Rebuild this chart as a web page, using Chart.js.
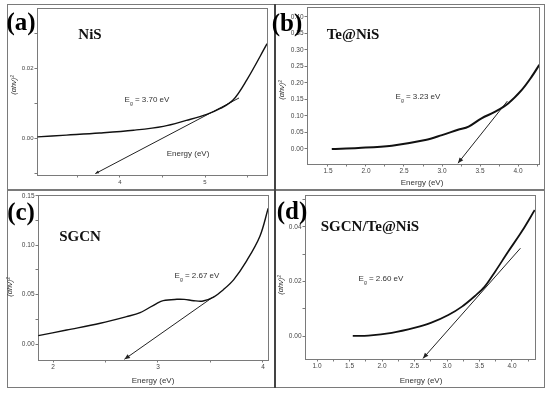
<!DOCTYPE html>
<html>
<head>
<meta charset="utf-8">
<script src="https://cdn.jsdelivr.net/npm/chart.js@4.4.1/dist/chart.umd.min.js"></script>
<style>
body{margin:0;width:550px;height:393px;background:#fff;position:relative;overflow:hidden;font-family:"Liberation Sans",Arial,sans-serif}
canvas{position:absolute}
.ln{position:absolute;background:#7a7a7a}
.t{position:absolute;transform:translate(-50%,-50%);white-space:nowrap;color:#333;line-height:1;z-index:3}
.tag{font:bold 25px "Liberation Serif",serif;color:#000}
.name{font:bold 15px "Liberation Serif",serif;color:#111}
.eg{font-size:8px}
.eg sub{font-size:5px}
.xl{font-size:8px}
.yl{font-size:7.5px;font-style:italic;transform:translate(-50%,-50%) rotate(-90deg)}
</style>
</head>
<body>
<div class="ln" style="left:7px;top:4px;width:538px;height:1px"></div>
<div class="ln" style="left:7px;top:387px;width:538px;height:1px"></div>
<div class="ln" style="left:7px;top:4px;width:1px;height:384px"></div>
<div class="ln" style="left:544px;top:4px;width:1px;height:384px"></div>
<div class="ln" style="left:7px;top:189px;width:538px;height:2px"></div>
<div class="ln" style="left:274px;top:4px;width:2px;height:384px;background:#444"></div>

<canvas id="pa" width="275" height="190" style="left:0;top:0"></canvas>
<canvas id="pb" width="270" height="190" style="left:275px;top:0"></canvas>
<canvas id="pc" width="275" height="197" style="left:0;top:190px"></canvas>
<canvas id="pd" width="270" height="197" style="left:275px;top:190px"></canvas>

<div class="t tag" style="left:21px;top:22px">(a)</div>
<div class="t name" style="left:90px;top:34px">NiS</div>
<div class="t eg" style="left:147px;top:101px">E<sub>g</sub> = 3.70 eV</div>
<div class="t xl" style="left:188px;top:154px">Energy (eV)</div>
<div class="t yl" style="left:14px;top:85px">(αhν)²</div>

<div class="t tag" style="left:287px;top:23px">(b)</div>
<div class="t name" style="left:353px;top:34px">Te@NiS</div>
<div class="t eg" style="left:418px;top:98px">E<sub>g</sub> = 3.23 eV</div>
<div class="t xl" style="left:422px;top:183px">Energy (eV)</div>
<div class="t yl" style="left:282px;top:90px">(αhν)²</div>

<div class="t tag" style="left:21px;top:212px">(c)</div>
<div class="t name" style="left:80px;top:236px">SGCN</div>
<div class="t eg" style="left:197px;top:277px">E<sub>g</sub> = 2.67 eV</div>
<div class="t xl" style="left:153px;top:381px">Energy (eV)</div>
<div class="t yl" style="left:10px;top:287px">(αhν)²</div>

<div class="t tag" style="left:292px;top:211px">(d)</div>
<div class="t name" style="left:370px;top:226px">SGCN/Te@NiS</div>
<div class="t eg" style="left:381px;top:280px">E<sub>g</sub> = 2.60 eV</div>
<div class="t xl" style="left:421px;top:381px">Energy (eV)</div>
<div class="t yl" style="left:281px;top:285px">(αhν)²</div>

<script>
// (a) NiS
const nisE = [3.03, 3.37, 3.76, 4.16, 4.51, 4.78, 5.02, 5.18, 5.33, 5.49, 5.73];
const nisA = [0.0004, 0.0009, 0.0015, 0.0023, 0.0034, 0.0051, 0.0068, 0.0085, 0.0109, 0.0166, 0.0270];
const nisFitE = [3.71, 5.40];
const nisFitA = [-0.0101, 0.0115];
const nisXTicks = [3.5, 4, 4.5, 5, 5.5];
const nisXLabels = ['', '4', '', '5', ''];
const nisYTicks = [-0.01, 0, 0.01, 0.02, 0.03];
const nisYLabels = ['', '0.00', '', '0.02', ''];

// (b) Te@NiS
const teE = [1.55, 1.90, 2.34, 2.78, 3.00, 3.21, 3.35, 3.52, 3.70, 3.87, 4.05, 4.18, 4.28];
const teA = [0.000, 0.003, 0.010, 0.027, 0.042, 0.058, 0.068, 0.093, 0.113, 0.138, 0.179, 0.219, 0.255];
const teFitE = [3.21, 3.86];
const teFitA = [-0.043, 0.145];
const teXTicks = [1.5, 1.75, 2.0, 2.25, 2.5, 2.75, 3.0, 3.25, 3.5, 3.75, 4.0, 4.25];
const teXLabels = ['1.5', '', '2.0', '', '2.5', '', '3.0', '', '3.5', '', '4.0', ''];
const teYTicks = [0, 0.05, 0.10, 0.15, 0.20, 0.25, 0.30, 0.35, 0.40];
const teYLabels = ['0.00', '0.05', '0.10', '0.15', '0.20', '0.25', '0.30', '0.35', '0.40'];

// (c) SGCN
const sgE = [1.86, 2.13, 2.45, 2.70, 2.83, 2.99, 3.05, 3.18, 3.25, 3.34, 3.43, 3.53, 3.62, 3.72, 3.84, 3.97, 4.05];
const sgA = [0.0085, 0.0142, 0.021, 0.0277, 0.0318, 0.0413, 0.0440, 0.0453, 0.0452, 0.0439, 0.0436, 0.0474, 0.0548, 0.065, 0.0835, 0.109, 0.1376];
const sgFitE = [2.68, 3.53];
const sgFitA = [-0.0155, 0.048];
const sgXTicks = [2, 2.5, 3, 3.5, 4];
const sgXLabels = ['2', '', '3', '', '4'];
const sgYTicks = [0, 0.025, 0.05, 0.075, 0.10, 0.125, 0.15];
const sgYLabels = ['0.00', '', '0.05', '', '0.10', '', '0.15'];

// (d) SGCN/Te@NiS
const cpE = [1.55, 1.79, 2.15, 2.51, 2.76, 3.02, 3.23, 3.43, 3.58, 3.74, 3.94, 4.15, 4.35];
const cpA = [0.0001, 0.0002, 0.0012, 0.0031, 0.0049, 0.0077, 0.0108, 0.0147, 0.0181, 0.0236, 0.0309, 0.0383, 0.0462];
const cpFitE = [2.63, 4.13];
const cpFitA = [-0.0082, 0.0322];
const cpXTicks = [1.0, 1.25, 1.5, 1.75, 2.0, 2.25, 2.5, 2.75, 3.0, 3.25, 3.5, 3.75, 4.0, 4.25];
const cpXLabels = ['1.0', '', '1.5', '', '2.0', '', '2.5', '', '3.0', '', '3.5', '', '4.0', ''];
const cpYTicks = [0, 0.01, 0.02, 0.03, 0.04, 0.05];
const cpYLabels = ['0.00', '', '0.02', '', '0.04', ''];

const pts = (xs, ys) => xs.map((x, i) => ({x, y: ys[i]}));

const framePlugin = {
  id: 'frame',
  beforeDatasetsDraw(chart) {
    const a = chart.chartArea, ctx = chart.ctx;
    ctx.save();
    ctx.strokeStyle = '#7a7a7a';
    ctx.lineWidth = 1;
    ctx.strokeRect(a.left + 0.5, a.top + 0.5, a.right - a.left, a.bottom - a.top);
    ctx.restore();
  }
};

const arrowPlugin = {
  id: 'arrow',
  afterDatasetsDraw(chart) {
    const ctx = chart.ctx;
    chart.data.datasets.forEach((ds, i) => {
      if (!ds.arrow) return;
      const pts = chart.getDatasetMeta(i).data;
      const p0 = pts[0], p1 = pts[1];
      const ang = Math.atan2(p0.y - p1.y, p0.x - p1.x);
      const len = ds.arrow;
      ctx.save();
      ctx.fillStyle = '#222';
      ctx.beginPath();
      ctx.moveTo(p0.x, p0.y);
      ctx.lineTo(p0.x - len * Math.cos(ang - 0.4), p0.y - len * Math.sin(ang - 0.4));
      ctx.lineTo(p0.x - len * Math.cos(ang + 0.4), p0.y - len * Math.sin(ang + 0.4));
      ctx.closePath();
      ctx.fill();
      ctx.restore();
    });
  }
};

function axis(min, max, ticks, labels, fit, tickFont, pad) {
  return {
    type: 'linear', min, max,
    afterBuildTicks: s => { s.ticks = ticks.map(v => ({value: v})); },
    afterFit: fit,
    ticks: {autoSkip: false, maxRotation: 0, padding: pad, color: '#444',
      font: {family: 'Liberation Sans', size: tickFont},
      callback: (v, i) => labels[i]},
    grid: {drawOnChartArea: false, drawTicks: true, tickLength: 2.5, color: '#7a7a7a'},
    border: {display: true, color: '#7a7a7a'}
  };
}

function panel(id, c) {
  const el = document.getElementById(id);
  const W = el.width, H = el.height;
  new Chart(el, {
    type: 'scatter',
    data: {datasets: [
      {data: pts(c.e, c.a), showLine: true, borderColor: '#111', borderWidth: c.lw, pointRadius: 0, tension: 0.35},
      {data: pts(c.fe, c.fa), showLine: true, borderColor: '#222', borderWidth: 1, pointRadius: 0, arrow: c.arrow}
    ]},
    options: {
      responsive: false, animation: false, devicePixelRatio: 1,
      layout: {padding: {left: 0, top: c.box[1], right: W - c.box[2], bottom: 0}},
      plugins: {legend: {display: false}, tooltip: {enabled: false}},
      scales: {
        x: axis(c.x[0], c.x[1], c.xt, c.xl, s => { s.height = H - c.box[3]; }, c.fs, 1),
        y: axis(c.y[0], c.y[1], c.yt, c.yl, s => { s.width = c.box[0]; }, c.fs, 1)
      }
    },
    plugins: [framePlugin, arrowPlugin]
  });
}

panel('pa', {e: nisE, a: nisA, fe: nisFitE, fa: nisFitA, xt: nisXTicks, xl: nisXLabels, yt: nisYTicks, yl: nisYLabels,
  x: [3.024, 5.729], y: [-0.0105, 0.0372], box: [37, 8, 267, 175], lw: 1.4, arrow: 4, fs: 6});
panel('pb', {e: teE, a: teA, fe: teFitE, fa: teFitA, xt: teXTicks, xl: teXLabels, yt: teYTicks, yl: teYLabels,
  x: [1.224, 4.276], y: [-0.0455, 0.430], box: [32, 7, 264, 164], lw: 2, arrow: 6, fs: 6.5});
panel('pc', {e: sgE, a: sgA, fe: sgFitE, fa: sgFitA, xt: sgXTicks, xl: sgXLabels, yt: sgYTicks, yl: sgYLabels,
  x: [1.857, 4.048], y: [-0.0162, 0.151], box: [38, 5, 268, 170], lw: 1.4, arrow: 6, fs: 6.5});
panel('pd', {e: cpE, a: cpA, fe: cpFitE, fa: cpFitA, xt: cpXTicks, xl: cpXLabels, yt: cpYTicks, yl: cpYLabels,
  x: [0.815, 4.354], y: [-0.0084, 0.0517], box: [30, 5, 260, 169], lw: 1.8, arrow: 6, fs: 6.5});
</script>
</body>
</html>
